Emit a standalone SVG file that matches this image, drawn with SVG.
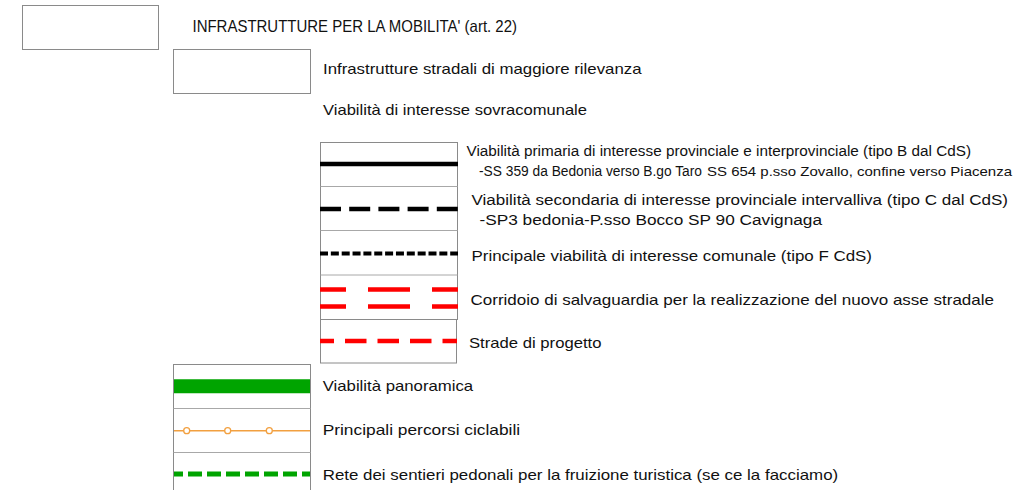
<svg xmlns="http://www.w3.org/2000/svg" width="1015" height="490" viewBox="0 0 1015 490">
<style>
.box{fill:#fff;stroke:#8a8a8a;stroke-width:1}
.sep{stroke:#a8a8a8;stroke-width:1}
.t{font-family:"Liberation Sans",Arial,sans-serif;fill:#111}
</style>
<rect width="1015" height="490" fill="#fff"/>
<g id="title">
<rect class="box" x="22.5" y="5.5" width="136" height="44"/>
<text class="t" x="192.5" y="31.5" font-size="16.5" textLength="324.5" lengthAdjust="spacingAndGlyphs">INFRASTRUTTURE PER LA MOBILITA' (art. 22)</text>
</g>
<g id="infrastrutture">
<rect class="box" x="173.5" y="49.5" width="137" height="44"/>
<text class="t" x="323" y="73.5" font-size="14.5" textLength="318.5" lengthAdjust="spacingAndGlyphs">Infrastrutture stradali di maggiore rilevanza</text>
</g>
<g id="sovracomunale">
<text class="t" x="323" y="115" font-size="14.5" textLength="264" lengthAdjust="spacingAndGlyphs">Viabilità di interesse sovracomunale</text>
</g>
<g id="stack">
<rect class="box" x="320.5" y="142.5" width="137" height="177"/>
<line class="sep" x1="320.5" y1="186.5" x2="457.5" y2="186.5"/>
<line class="sep" x1="320.5" y1="230.5" x2="457.5" y2="230.5"/>
<line class="sep" x1="320.5" y1="275" x2="457.5" y2="275"/>
</g>
<g id="primaria">
<line x1="320" y1="164" x2="458" y2="164" stroke="#000" stroke-width="4.5"/>
<text class="t" x="466.5" y="156" font-size="14" textLength="504.5" lengthAdjust="spacingAndGlyphs">Viabilità primaria di interesse provinciale e interprovinciale (tipo B dal CdS)</text>
<text class="t" x="479" y="175.5" font-size="14" textLength="223" lengthAdjust="spacingAndGlyphs">-SS 359 da Bedonia verso B.go Taro</text>
<text class="t" x="707" y="175.5" font-size="13" textLength="305" lengthAdjust="spacingAndGlyphs">SS 654 p.sso Zovallo, confine verso Piacenza</text>
</g>
<g id="secondaria">
<line x1="320" y1="209" x2="458" y2="209" stroke="#000" stroke-width="4.5" stroke-dasharray="21 8.2"/>
<text class="t" x="471.5" y="204.5" font-size="15.5" textLength="536.5" lengthAdjust="spacingAndGlyphs">Viabilità secondaria di interesse provinciale intervalliva (tipo C dal CdS)</text>
<text class="t" x="479.5" y="224.5" font-size="15.5" textLength="342.5" lengthAdjust="spacingAndGlyphs">-SP3 bedonia-P.sso Bocco  SP 90 Cavignaga</text>
</g>
<g id="comunale">
<line x1="320" y1="253.5" x2="458" y2="253.5" stroke="#000" stroke-width="4" stroke-dasharray="8 2.85"/>
<text class="t" x="471.5" y="260.5" font-size="14.5" textLength="400.5" lengthAdjust="spacingAndGlyphs">Principale viabilità di interesse comunale (tipo F CdS)</text>
</g>
<g id="corridoio">
<line x1="320" y1="289.5" x2="458" y2="289.5" stroke="#f00" stroke-width="4.5" stroke-dasharray="42 22" stroke-dashoffset="16"/>
<line x1="320" y1="306.5" x2="458" y2="306.5" stroke="#f00" stroke-width="4.5" stroke-dasharray="42 22" stroke-dashoffset="16"/>
<text class="t" x="470.5" y="305" font-size="14.5" textLength="523.5" lengthAdjust="spacingAndGlyphs">Corridoio di salvaguardia per la realizzazione del nuovo asse stradale</text>
</g>
<g id="progetto">
<rect class="box" x="320.5" y="319.5" width="136" height="43.5"/>
<line x1="320" y1="341" x2="457" y2="341" stroke="#f00" stroke-width="4.5" stroke-dasharray="21.5 11" stroke-dashoffset="7.5"/>
<text class="t" x="469" y="347.5" font-size="14.5" textLength="132.5" lengthAdjust="spacingAndGlyphs">Strade di progetto</text>
</g>
<g id="lowerstack">
<rect class="box" x="173.5" y="364.5" width="137" height="140"/>
<line class="sep" x1="173.5" y1="408.5" x2="310.5" y2="408.5"/>
<line class="sep" x1="173.5" y1="452.5" x2="310.5" y2="452.5"/>
</g>
<g id="panoramica">
<line x1="174" y1="386.3" x2="310" y2="386.3" stroke="#00a400" stroke-width="14"/>
<text class="t" x="322.7" y="391" font-size="14.5" textLength="150.5" lengthAdjust="spacingAndGlyphs">Viabilità panoramica</text>
</g>
<g id="ciclabili">
<line x1="174" y1="430.7" x2="310" y2="430.7" stroke="#f2a040" stroke-width="1.5"/>
<circle cx="186.7" cy="430.7" r="3" fill="#fff" stroke="#f2a040" stroke-width="1.3"/>
<circle cx="227.7" cy="430.7" r="3" fill="#fff" stroke="#f2a040" stroke-width="1.3"/>
<circle cx="269.3" cy="430.7" r="3" fill="#fff" stroke="#f2a040" stroke-width="1.3"/>
<text class="t" x="322.7" y="434.5" font-size="14.5" textLength="197.5" lengthAdjust="spacingAndGlyphs">Principali percorsi ciclabili</text>
</g>
<g id="sentieri">
<line x1="174" y1="474" x2="310" y2="474" stroke="#00a400" stroke-width="5" stroke-dasharray="14 5" stroke-dashoffset="5"/>
<text class="t" x="322.7" y="479.5" font-size="14.5" textLength="515.5" lengthAdjust="spacingAndGlyphs">Rete dei sentieri pedonali per la fruizione turistica (se ce la facciamo)</text>
</g>
</svg>
